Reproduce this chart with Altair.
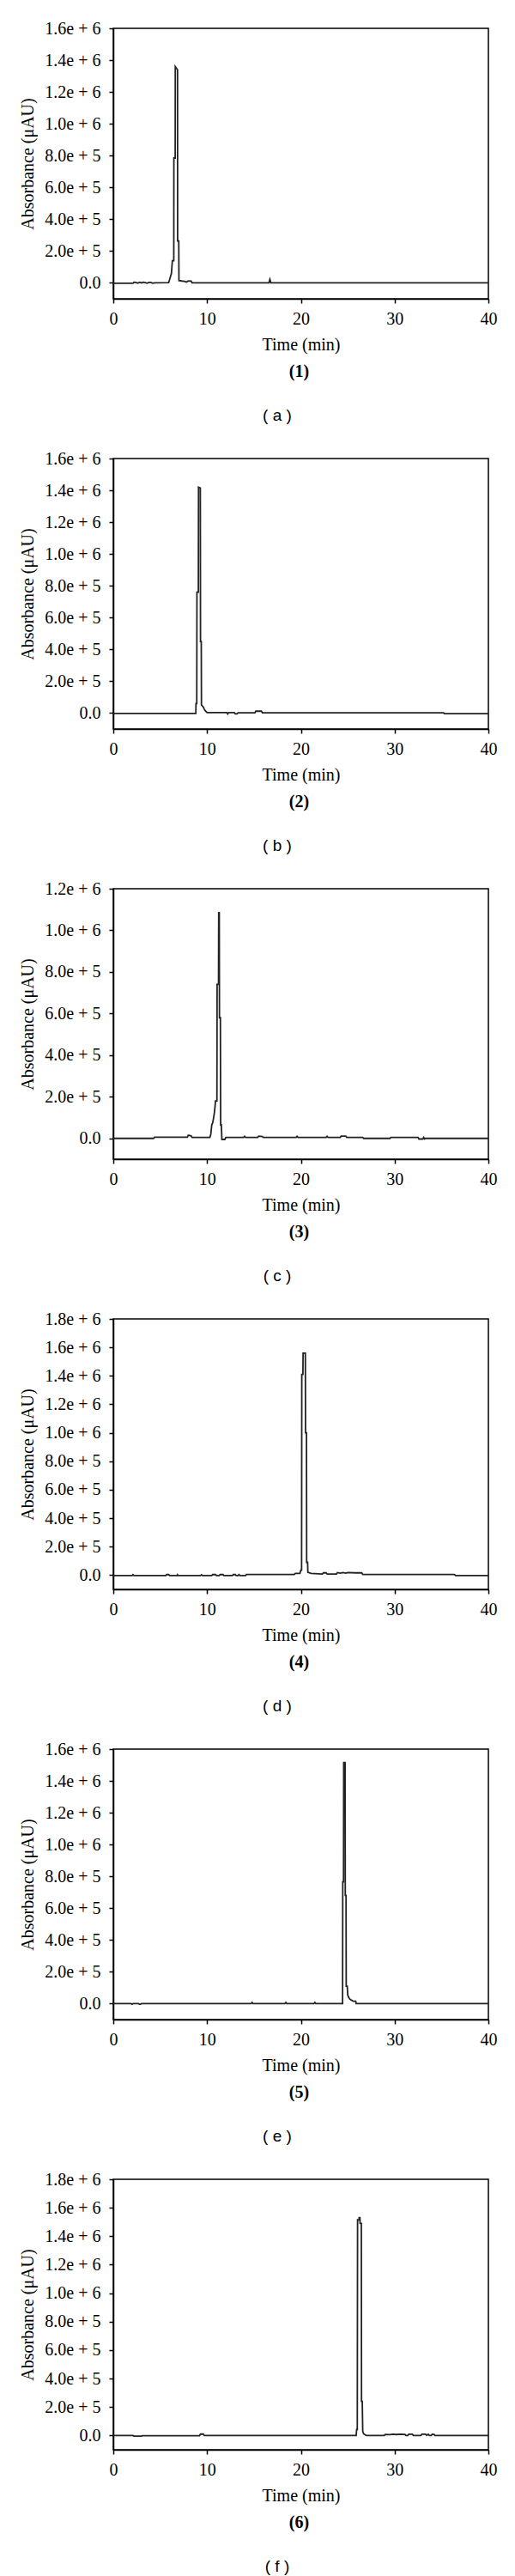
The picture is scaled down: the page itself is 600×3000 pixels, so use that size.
import altair as alt
import pandas as pd

# ---------------- data ----------------
T_A = [0, 2.1, 2.2, 2.4, 2.6, 2.8, 3.0, 3.2, 3.4, 3.6, 3.8, 4.0, 4.2, 4.4, 5.9, 6.0, 6.1, 6.2, 6.3,
       6.45, 6.46, 6.6, 6.61, 6.85, 6.86, 6.98, 7.0, 7.3, 7.6, 7.8, 8.0, 8.3, 8.4, 16.6, 16.7, 16.8, 40]
V_A = [-2000, -2000, 4000, 3000, -2000, 4000, 0, 4000, 2000, -2000, 3000, 3000, -2000, 1000, 2000, 20000,
       40000, 60000, 140000, 140000, 785000, 785000, 1360000, 1340000, 264000, 264000, 15000, 12000,
       10000, 5000, 13000, 12000, 1000, 1000, 22000, 1000, 1000]

T_B = [0, 8.8, 8.82, 8.9, 8.92, 9.07, 9.09, 9.28, 9.3, 9.38, 9.4, 9.5, 9.6, 9.7, 9.8, 10.0, 12.1, 12.2,
       12.3, 12.9, 13.0, 13.2, 13.3, 15.1, 15.2, 15.8, 15.9, 35.2, 35.3, 35.6, 40]
V_B = [-2000, -2000, 60000, 60000, 760000, 760000, 1420000, 1415000, 450000, 450000, 50000, 45000,
       38000, 25000, 15000, 3000, 3000, -5000, 3000, 3000, -5000, -5000, 2000, 2000, 12000, 12000,
       2000, 2000, -3000, -3000, -3000]

T_C = [0, 4.3, 4.4, 7.9, 8.0, 8.3, 8.4, 10.3, 10.4, 10.5, 10.6, 10.7, 10.8, 10.9, 11.05, 11.07, 11.22,
       11.24, 11.3, 11.32, 11.42, 11.45, 11.52, 11.58, 11.9, 12.0, 13.9, 14.0, 14.1, 15.4, 15.5, 15.9,
       16.0, 19.5, 19.6, 19.7, 22.7, 22.8, 22.9, 24.2, 24.3, 24.8, 24.9, 26.6, 26.7, 29.5, 29.6, 32.5,
       32.6, 33.0, 33.1, 33.2, 33.3, 40]
V_C = [0, 0, 6000, 6000, 15000, 12000, 5000, 5000, 20000, 65000, 75000, 100000, 130000, 180000,
       180000, 740000, 740000, 1085000, 1085000, 580000, 580000, 65000, 65000, -5000, -5000, 5000,
       5000, 10000, 5000, 5000, 11000, 9000, 5000, 5000, 10000, 5000, 5000, 10000, 5000, 5000, 11000,
       11000, 5000, 5000, 0, 0, 5000, 5000, -3000, -3000, 5000, -3000, 0, 0]

T_D = [0, 2.0, 2.1, 2.2, 5.6, 5.7, 5.9, 6.0, 6.8, 6.85, 6.9, 9.3, 9.4, 9.5, 10.5, 10.6, 10.9, 11.0,
       11.3, 11.4, 11.7, 11.8, 12.7, 12.8, 13.0, 13.1, 13.3, 13.4, 13.5, 14.1, 14.2, 19.3, 19.4, 19.9,
       20.0, 20.08, 20.1, 20.22, 20.24, 20.48, 20.5, 20.6, 20.62, 20.72, 20.75, 21.1, 22.3, 22.4, 22.7,
       22.8, 23.8, 23.9, 24.2, 24.5, 24.8, 25.0, 25.8, 26.5, 26.6, 36.3, 36.4, 36.5, 40]
V_D = [-3000, -3000, 4000, -3000, -3000, 4000, 4000, -3000, -3000, 3000, -3000, -3000, 3000, -3000,
       -3000, 4000, 4000, -3000, -3000, 4000, 4000, -3000, -3000, 4000, 4000, -3000, -3000, 4000,
       -3000, -3000, 5000, 5000, 12000, 12000, 35000, 35000, 1410000, 1410000, 1560000, 1560000,
       1000000, 1000000, 90000, 90000, 20000, 12000, 8000, 16000, 16000, 8000, 8000, 18000, 14000,
       18000, 14000, 18000, 16000, 16000, 5000, 5000, 3000, -3000, -3000]

T_E = [0, 1.9, 2.0, 2.1, 2.7, 2.8, 2.9, 3.0, 14.7, 14.8, 14.9, 18.3, 18.4, 18.5, 21.4, 21.5, 21.6,
       24.45, 24.47, 24.55, 24.57, 24.72, 24.74, 24.82, 24.84, 24.95, 25.0, 25.1, 25.2, 25.4, 25.6,
       25.85, 25.9, 40]
V_E = [0, 0, -4000, 0, 0, -4000, -4000, 0, 0, 8000, 0, 0, 8000, 0, 0, 8000, 0, 0, 765000, 765000,
       1515000, 1515000, 680000, 680000, 110000, 110000, 55000, 40000, 30000, 22000, 15000, 15000, 0, 0]

T_F = [0, 2.1, 2.2, 3.0, 3.1, 9.2, 9.3, 9.6, 9.7, 25.9, 25.95, 26.02, 26.05, 26.2, 26.22, 26.3, 26.32,
       26.45, 26.47, 26.55, 26.6, 26.7, 26.85, 27.0, 28.9, 29.0, 29.5, 29.8, 30.2, 30.6, 31.1, 31.2,
       31.4, 31.5, 31.9, 32.0, 32.8, 32.9, 33.3, 33.4, 33.6, 33.7, 33.9, 34.0, 34.2, 34.3, 40]
V_F = [0, 0, -4000, -4000, -1000, -1000, 10000, 10000, 0, 0, 42000, 42000, 1515000, 1515000, 1530000,
       1530000, 1490000, 1490000, 240000, 240000, 30000, 12000, 5000, 0, 0, 8000, 6000, 9000, 7000,
       9000, 8000, 0, 0, 9000, 9000, 0, 0, 9000, 9000, 2000, 9000, 0, 0, 9000, 8000, 0, 0]

COMPOUNDS = ["(1)", "(2)", "(3)", "(4)", "(5)", "(6)"]
LETTERS = ["( a )", "( b )", "( c )", "( d )", "( e )", "( f )"]
YMAX = [1.6e6, 1.6e6, 1.2e6, 1.8e6, 1.6e6, 1.8e6]
SERIES = [(T_A, V_A), (T_B, V_B), (T_C, V_C), (T_D, V_D), (T_E, V_E), (T_F, V_F)]
X_TICKS = [0, 10, 20, 30, 40]

W, H = 437, 315
SERIF = "Liberation Serif"
FS = 20

LABEL_EXPR = ("datum.value == 0 ? '0.0' : (datum.value >= 1000000 ? "
              "format(datum.value / 1000000, '.1f') + 'e + 6' : "
              "format(datum.value / 100000, '.1f') + 'e + 5')")


def panel(num, letter, t, v, ymax):
    df = pd.DataFrame({"t": t, "v": v, "i": list(range(len(t)))})
    yticks = [k * 200000 for k in range(int(round(ymax / 200000)) + 1)]
    line = alt.Chart(df).mark_line(color="#222222", strokeWidth=1.8).encode(
        x=alt.X("t:Q", scale=alt.Scale(domain=[0, 40], nice=False, zero=False),
                axis=alt.Axis(values=X_TICKS, title="Time (min)", labelPadding=8,
                              titlePadding=10, format="d")),
        y=alt.Y("v:Q", scale=alt.Scale(domain=[-100000, ymax], nice=False, zero=False),
                axis=alt.Axis(values=yticks, labelExpr=LABEL_EXPR, title="Absorbance (μAU)",
                              labelPadding=10, titlePadding=9)),
        order="i:Q",
    )
    num_txt = alt.Chart(pd.DataFrame({"s": [num]})).mark_text(
        font=SERIF, fontSize=FS, fontWeight="bold", baseline="middle", align="center", color="black"
    ).encode(text="s:N", x=alt.value(W / 2 - 2), y=alt.value(400))
    let_txt = alt.Chart(pd.DataFrame({"s": [letter]})).mark_text(
        font="Liberation Sans", fontSize=19, baseline="middle", align="center", color="black"
    ).encode(text="s:N", x=alt.value(191), y=alt.value(451))
    return alt.layer(line, num_txt, let_txt).properties(width=W, height=H)


charts = [panel(COMPOUNDS[k], LETTERS[k], SERIES[k][0], SERIES[k][1], YMAX[k]) for k in range(6)]

chart = alt.vconcat(*charts, spacing=28).properties(
    padding={"left": 14, "top": 14, "right": 0, "bottom": 0},
    background="white",
).configure_axis(
    labelFont=SERIF, labelFontSize=FS, labelColor="black",
    titleFont=SERIF, titleFontSize=FS, titleFontWeight="normal", titleColor="black",
    domainColor="black", domainWidth=1.5, tickColor="black", tickWidth=1.5, tickSize=5,
    grid=False, labelFlush=False, labelOverlap=False,
).configure_view(
    stroke="black", strokeWidth=1.5
)

chart.save("out.html", embed_options={"renderer": "svg", "actions": False})
